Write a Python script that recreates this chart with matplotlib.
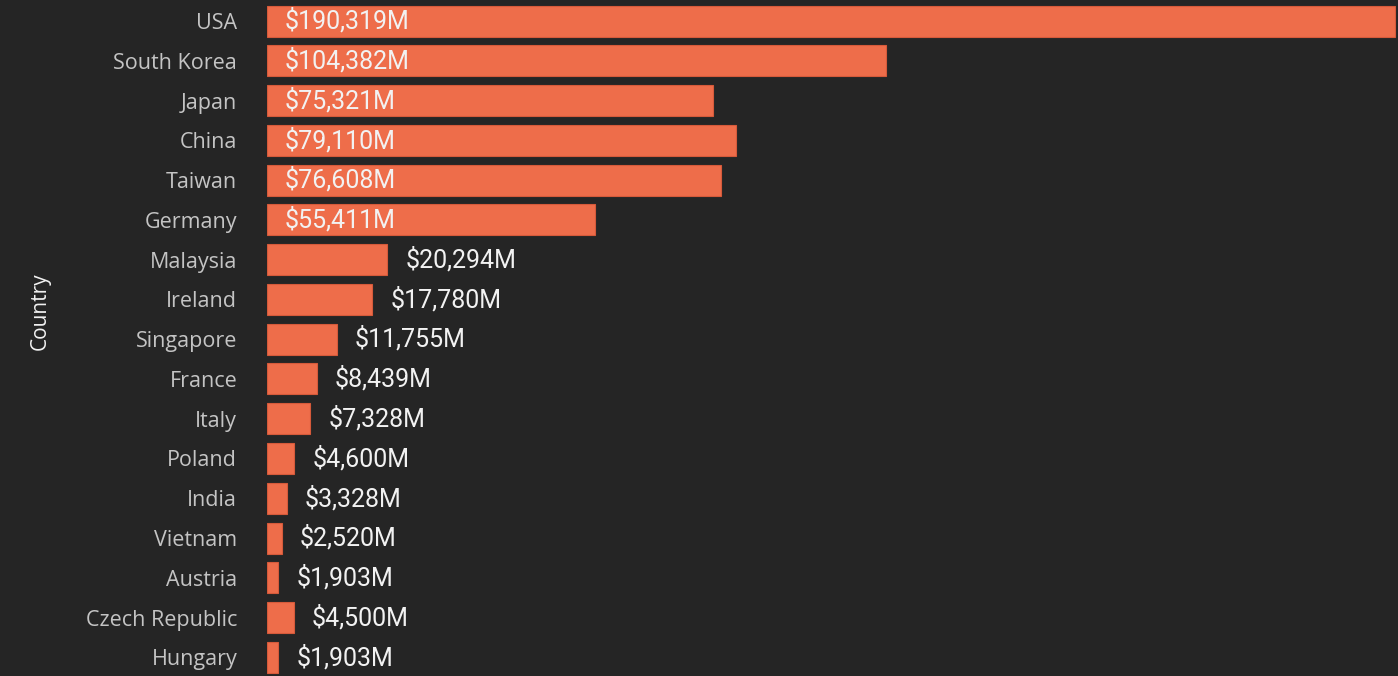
import numpy as np
import matplotlib.pyplot as plt

countries = ["USA", "South Korea", "Japan", "China", "Taiwan", "Germany",
             "Malaysia", "Ireland", "Singapore", "France", "Italy", "Poland",
             "India", "Vietnam", "Austria", "Czech Republic", "Hungary"]
revenue_musd = [190319, 104382, 75321, 79110, 76608, 55411,
                20294, 17780, 11755, 8439, 7328, 4600,
                3328, 2520, 1903, 4500, 1903]

BG = "#252525"
BAR = "#ee6d4a"

fig = plt.figure(figsize=(13.98, 6.76), dpi=100, facecolor=BG)
ax = fig.add_axes([267 / 1398, 0, 1131 / 1398, 1])
ax.set_facecolor(BG)

y_pos = np.arange(len(countries))
ax.barh(y_pos, revenue_musd, height=0.78, color=BAR, edgecolor="#d65a3a", linewidth=0.8)

xmax = max(revenue_musd) * 1131 / 1128
ax.set_xlim(0, xmax)
ax.set_ylim(len(countries) - 0.53, -0.53)

ax.set_yticks(y_pos)
ax.set_yticklabels(countries, fontfamily="Open Sans", fontsize=15.5, color="#c4c4c4")
ax.tick_params(axis="y", length=0, pad=21.5)
ax.tick_params(axis="x", bottom=False, labelbottom=False)
for s in ax.spines.values():
    s.set_visible(False)

# value labels: inside the bar when it's long enough, otherwise just past its end
pad = 18 * xmax / 1131
for y, v in zip(y_pos, revenue_musd):
    txt = f"${v:,}M"
    x = pad if v > 40000 else v + pad
    ax.text(x, y, txt, ha="left", va="center", fontfamily="Roboto",
            fontsize=18, color="#f2f2f2")

fig.text(40 / 1398, 1 - 311 / 676, "Country", rotation=90, ha="center", va="center",
         fontfamily="Open Sans", fontsize=15, color="#f2f2f2")

fig.savefig("out.png", facecolor=BG)
